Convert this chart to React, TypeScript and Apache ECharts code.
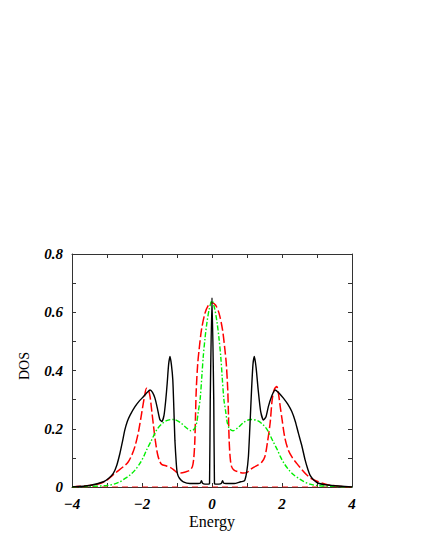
import React, { useEffect, useRef } from "react";
import * as echarts from "echarts";

// Energy / DOS pairs
const blackDOS: [number, number][] = [
  [-4, 0], [-3.5, 0.005], [-3.1, 0.018], [-2.95, 0.03], [-2.82, 0.047], [-2.72, 0.075],
  [-2.63, 0.116], [-2.56, 0.155], [-2.49, 0.196], [-2.42, 0.225], [-2.34, 0.247], [-2.2, 0.276],
  [-2.08, 0.295], [-1.96, 0.31], [-1.85, 0.325], [-1.77, 0.333], [-1.7, 0.325], [-1.63, 0.305],
  [-1.56, 0.27], [-1.49, 0.232], [-1.43, 0.225], [-1.37, 0.247], [-1.32, 0.3], [-1.28, 0.356],
  [-1.24, 0.42], [-1.2, 0.448], [-1.16, 0.42], [-1.12, 0.368], [-1.09, 0.27], [-1.06, 0.16],
  [-1.02, 0.08], [-0.99, 0.047], [-0.93, 0.03], [-0.82, 0.018], [-0.63, 0.012], [-0.4, 0.012],
  [-0.33, 0.014], [-0.3, 0.022], [-0.27, 0.013], [-0.2, 0.01], [-0.1, 0.01], [-0.07, 0.012],
  [-0.05, 0.3], [0, 0.65], [0.05, 0.3], [0.07, 0.012], [0.1, 0.01], [0.2, 0.01], [0.27, 0.013],
  [0.3, 0.022], [0.33, 0.014], [0.4, 0.012], [0.63, 0.012], [0.82, 0.018], [0.9, 0.02],
  [0.94, 0.024], [0.99, 0.05], [1.04, 0.104], [1.08, 0.2], [1.13, 0.333], [1.17, 0.42],
  [1.21, 0.448], [1.26, 0.41], [1.32, 0.333], [1.39, 0.26], [1.47, 0.23], [1.54, 0.24],
  [1.61, 0.276], [1.7, 0.31], [1.8, 0.333], [1.92, 0.322], [2.04, 0.305], [2.16, 0.285],
  [2.28, 0.259], [2.38, 0.225], [2.47, 0.184], [2.57, 0.14], [2.66, 0.093], [2.74, 0.06],
  [2.8, 0.041], [2.9, 0.025], [3.04, 0.013], [3.42, 0.005], [4, 0],
];

const redDOS: [number, number][] = [
  [-4, 0], [-3.5, 0.005], [-3.2, 0.012], [-3.0, 0.024], [-2.77, 0.047], [-2.53, 0.07],
  [-2.4, 0.085], [-2.29, 0.11], [-2.2, 0.14], [-2.1, 0.19], [-2.01, 0.253], [-1.93, 0.31],
  [-1.87, 0.339], [-1.82, 0.335], [-1.77, 0.31], [-1.72, 0.26], [-1.68, 0.219], [-1.62, 0.16],
  [-1.56, 0.115], [-1.5, 0.09], [-1.44, 0.078], [-1.3, 0.072], [-1.2, 0.068], [-1.1, 0.06],
  [-1.0, 0.05], [-0.9, 0.048], [-0.75, 0.052], [-0.63, 0.058], [-0.56, 0.07], [-0.52, 0.1],
  [-0.49, 0.16], [-0.47, 0.25], [-0.45, 0.333], [-0.41, 0.42], [-0.37, 0.47], [-0.3, 0.54],
  [-0.2, 0.597], [-0.1, 0.625], [0, 0.633], [0.1, 0.625], [0.2, 0.597], [0.3, 0.54],
  [0.37, 0.47], [0.41, 0.42], [0.45, 0.333], [0.47, 0.25], [0.49, 0.16], [0.52, 0.1],
  [0.56, 0.07], [0.63, 0.058], [0.75, 0.052], [0.9, 0.048], [1.0, 0.05], [1.1, 0.06],
  [1.2, 0.068], [1.32, 0.076], [1.42, 0.085], [1.51, 0.104], [1.58, 0.15], [1.66, 0.219],
  [1.72, 0.3], [1.78, 0.335], [1.85, 0.345], [1.9, 0.32], [1.95, 0.275], [1.99, 0.242],
  [2.08, 0.17], [2.18, 0.127], [2.3, 0.1], [2.42, 0.081], [2.55, 0.062], [2.71, 0.041],
  [2.85, 0.028], [3.04, 0.018], [3.3, 0.008], [3.6, 0.003], [4, 0],
];

const greenDOS: [number, number][] = [
  [-4, 0], [-3.5, 0.002], [-3.0, 0.005], [-2.8, 0.01], [-2.63, 0.018], [-2.5, 0.028],
  [-2.34, 0.041], [-2.2, 0.058], [-2.06, 0.081], [-1.95, 0.105], [-1.87, 0.127], [-1.75, 0.155],
  [-1.58, 0.196], [-1.45, 0.215], [-1.3, 0.228], [-1.1, 0.232], [-0.91, 0.222], [-0.75, 0.205],
  [-0.6, 0.193], [-0.5, 0.2], [-0.44, 0.219], [-0.39, 0.26], [-0.34, 0.3], [-0.29, 0.38],
  [-0.25, 0.448], [-0.2, 0.51], [-0.15, 0.56], [-0.08, 0.61], [0, 0.64], [0.08, 0.61],
  [0.15, 0.56], [0.2, 0.51], [0.25, 0.448], [0.29, 0.38], [0.34, 0.3], [0.39, 0.26],
  [0.44, 0.219], [0.5, 0.2], [0.6, 0.193], [0.75, 0.205], [0.91, 0.222], [1.1, 0.232],
  [1.3, 0.228], [1.45, 0.215], [1.58, 0.196], [1.75, 0.155], [1.87, 0.127], [1.95, 0.105],
  [2.06, 0.081], [2.2, 0.058], [2.34, 0.041], [2.5, 0.028], [2.63, 0.018], [2.8, 0.01],
  [3.0, 0.005], [3.5, 0.002], [4, 0],
];

const zeroDOS: [number, number][] = [[-4, 0], [4, 0]];

const X_MIN = -4;
const X_MAX = 4;
const Y_MIN = 0;
const Y_MAX = 0.8;

const FONT = "'Liberation Serif', 'Times New Roman', serif";

export default function App() {
  const ref = useRef<HTMLDivElement>(null);
  useEffect(() => {
    if (!ref.current) return;
    const chart = echarts.init(ref.current, undefined, { renderer: "svg" });
    const frame = "#333";
    const tickLabel = {
      fontFamily: FONT,
      fontSize: 15,
      fontWeight: "bold" as const,
      fontStyle: "italic" as const,
      color: "#000",
    };
    const xFmt = (v: number) => {
      if (Math.round(v) % 2 !== 0) return "";
      return v < 0 ? "\u2212" + Math.abs(v) : String(v);
    };
    const yFmt = (v: number) => {
      const k = Math.round(v * 10);
      if (k % 2 !== 0) return "";
      return k === 0 ? "0" : (k / 10).toFixed(1);
    };
    const baseX = {
      type: "value" as const,
      min: X_MIN,
      max: X_MAX,
      interval: 1,
      axisLine: { show: true, onZero: false, lineStyle: { color: frame, width: 1 } },
      axisTick: { show: true, inside: true, length: 4, lineStyle: { color: frame } },
      splitLine: { show: false },
    };
    const baseY = {
      type: "value" as const,
      min: Y_MIN,
      max: Y_MAX,
      interval: 0.1,
      axisLine: { show: true, onZero: false, lineStyle: { color: frame, width: 1 } },
      axisTick: { show: true, inside: true, length: 4, lineStyle: { color: frame } },
      splitLine: { show: false },
    };
    chart.setOption({
      animation: false,
      backgroundColor: "#fff",
      grid: { left: 72, top: 254, width: 280, height: 233, containLabel: false },
      xAxis: [
        { ...baseX, position: "bottom", axisLabel: { ...tickLabel, margin: 9, formatter: xFmt } },
        { ...baseX, position: "top", axisLabel: { show: false } },
      ],
      yAxis: [
        { ...baseY, position: "left", axisLabel: { ...tickLabel, margin: 9, formatter: yFmt } },
        { ...baseY, position: "right", axisLabel: { show: false } },
      ],
      graphic: [
        {
          type: "text",
          x: 212,
          y: 521,
          style: {
            text: "Energy",
            fontFamily: FONT,
            fontSize: 16,
            fill: "#000",
            align: "center",
            verticalAlign: "middle",
          },
        },
        {
          type: "text",
          x: 24,
          y: 366,
          rotation: Math.PI / 2,
          style: {
            text: "DOS",
            fontFamily: FONT,
            fontSize: 14,
            fill: "#000",
            align: "center",
            verticalAlign: "middle",
          },
        },
      ],
      series: [
        {
          type: "line",
          data: zeroDOS,
          showSymbol: false,
          lineStyle: { color: "#ff0000", width: 1, type: [6, 4] },
          silent: true,
          z: 1,
        },
        {
          type: "line",
          data: redDOS,
          showSymbol: false,
          smooth: 0.3,
          lineStyle: { color: "#ff0000", width: 1.5, type: [9, 3] },
          z: 2,
        },
        {
          type: "line",
          data: greenDOS,
          showSymbol: false,
          smooth: 0.3,
          lineStyle: { color: "#00ee00", width: 1.4, type: [5, 2, 1.5, 2] },
          z: 3,
        },
        {
          type: "line",
          data: blackDOS,
          showSymbol: false,
          smooth: 0.2,
          lineStyle: { color: "#000", width: 1.4 },
          z: 4,
        },
      ],
    });
    return () => chart.dispose();
  }, []);
  return (
    <div
      ref={ref}
      style={{ position: "absolute", left: 0, top: 0, width: 425, height: 550 }}
    />
  );
}
